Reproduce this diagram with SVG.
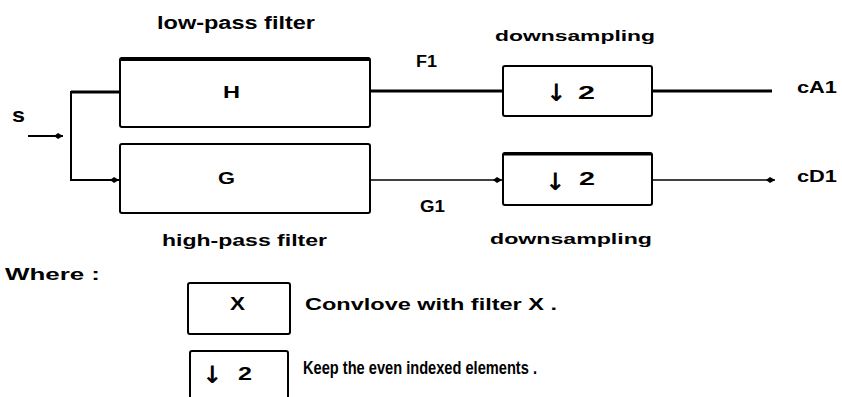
<svg xmlns="http://www.w3.org/2000/svg" width="842" height="397" viewBox="0 0 842 397">
<defs>
<marker id="ah" markerWidth="10" markerHeight="8" refX="9" refY="4" orient="auto" markerUnits="userSpaceOnUse">
<path d="M0,4 L4,1 L9,4 L4,7 Z" fill="#000"/>
</marker>
<style>
.t{font-family:"Liberation Sans",Arial,sans-serif;font-weight:bold;fill:#000}
.r{font-family:"Liberation Sans",Arial,sans-serif;fill:#000}
.ar{font-family:"DejaVu Sans",sans-serif;font-weight:bold;fill:#000}
.box{fill:#fff;stroke:#000;stroke-width:2}
.c{fill:none;stroke:#000}
</style>
</defs>
<rect width="842" height="397" fill="#fff"/>
<g id="connectors">
<path class="c" d="M28,136 H63" stroke-width="2" marker-end="url(#ah)"/>
<path class="c" d="M71,92 H121" stroke-width="3"/>
<path class="c" d="M71,91 V180 H119" stroke-width="2" marker-end="url(#ah)"/>
<path class="c" d="M370,91 H503" stroke-width="3"/>
<path class="c" d="M370,180 H502" stroke-width="1.5" marker-end="url(#ah)"/>
<path class="c" d="M652,91 H772" stroke-width="3"/>
<path class="c" d="M652,180 H775" stroke-width="1.5" marker-end="url(#ah)"/>
</g>
<g id="input-s"><text class="t" x="12" y="122" font-size="21" textLength="13" lengthAdjust="spacingAndGlyphs">s</text></g>
<g id="lowpass">
<rect class="box" x="120" y="58" width="250" height="69" rx="2"/>
<line x1="121" y1="59" x2="369" y2="59" stroke="#000" stroke-width="4"/>
<text class="t" x="223" y="98" font-size="16" textLength="17" lengthAdjust="spacingAndGlyphs">H</text>
<text class="t" x="157" y="29" font-size="18" textLength="158" lengthAdjust="spacingAndGlyphs">low-pass filter</text>
</g>
<g id="highpass">
<rect class="box" x="120" y="144" width="250" height="69" rx="2"/>
<text class="t" x="218" y="184" font-size="16" textLength="17" lengthAdjust="spacingAndGlyphs">G</text>
<text class="t" x="162" y="246" font-size="16" textLength="165" lengthAdjust="spacingAndGlyphs">high-pass filter</text>
</g>
<g id="down1">
<rect class="box" x="503" y="66" width="149" height="50" rx="2"/>
<text class="ar" x="556" y="101" font-size="24" text-anchor="middle">↓</text>
<text class="t" x="578" y="99" font-size="19" textLength="17" lengthAdjust="spacingAndGlyphs">2</text>
<text class="t" x="495" y="41" font-size="15" textLength="160" lengthAdjust="spacingAndGlyphs">downsampling</text>
</g>
<g id="down2">
<rect class="box" x="503" y="153" width="149" height="52" rx="2"/>
<line x1="504" y1="154" x2="651" y2="154" stroke="#000" stroke-width="3"/>
<text class="ar" x="555" y="190" font-size="24" text-anchor="middle">↓</text>
<text class="t" x="579" y="185" font-size="19" textLength="16" lengthAdjust="spacingAndGlyphs">2</text>
<text class="t" x="490" y="244" font-size="15" textLength="162" lengthAdjust="spacingAndGlyphs">downsampling</text>
</g>
<g id="labels">
<text class="t" x="416" y="67" font-size="16" textLength="21" lengthAdjust="spacingAndGlyphs">F1</text>
<text class="t" x="420" y="212" font-size="16" textLength="25" lengthAdjust="spacingAndGlyphs">G1</text>
<text class="t" x="797" y="93" font-size="16" textLength="40" lengthAdjust="spacingAndGlyphs">cA1</text>
<text class="t" x="797" y="182" font-size="16" textLength="40" lengthAdjust="spacingAndGlyphs">cD1</text>
</g>
<g id="legend">
<text class="t" x="5" y="280" font-size="16" textLength="95" lengthAdjust="spacingAndGlyphs">Where :</text>
<rect class="box" x="188" y="283" width="102" height="51" rx="2"/>
<text class="t" x="230" y="310" font-size="18" textLength="15" lengthAdjust="spacingAndGlyphs">X</text>
<text class="t" x="305" y="310" font-size="16" textLength="252" lengthAdjust="spacingAndGlyphs">Convlove with filter X .</text>
<rect class="box" x="190" y="351" width="98" height="60" rx="2"/>
<text class="ar" x="212" y="383" font-size="24" text-anchor="middle">↓</text>
<text class="t" x="238" y="380" font-size="19" textLength="14" lengthAdjust="spacingAndGlyphs">2</text>
<text class="t" x="303" y="374" font-size="18" textLength="234" lengthAdjust="spacingAndGlyphs">Keep the even indexed elements .</text>
</g>
</svg>
